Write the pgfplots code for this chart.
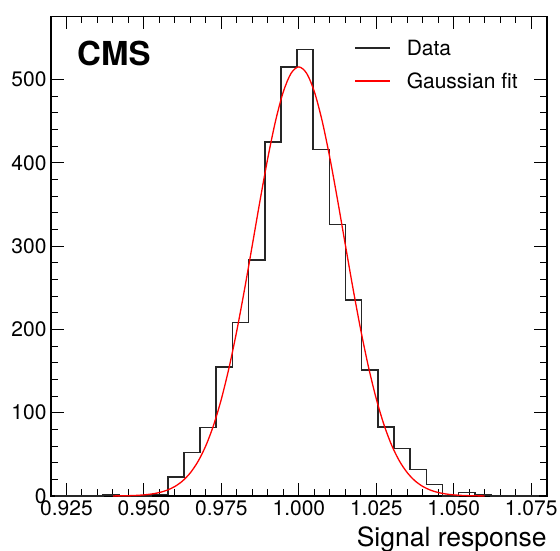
\documentclass[border=0pt]{standalone}
\usepackage{pgfplots}
\pgfplotsset{compat=1.18}
\usepackage{fontspec}
\setmainfont{TeX Gyre Heros}
\begin{document}
\begin{tikzpicture}
\useasboundingbox (-51pt,-54pt) rectangle (509pt,496pt);
\begin{axis}[
  at={(0pt,0pt)}, anchor=south west,
  scale only axis, width=495.7pt, height=479.5pt,
  xmin=0.92, xmax=1.08, ymin=0, ymax=575.5,
  xtick={0.925,0.95,0.975,1.0,1.025,1.05,1.075},
  xticklabels={0.925,0.950,0.975,1.000,1.025,1.050,1.075},
  ytick={0,100,200,300,400,500},
  minor x tick num=4, minor y tick num=4,
  tick align=inside, xtick pos=both, ytick pos=both,
  major tick length=13pt, minor tick length=7pt,
  every tick/.style={black, line width=1pt},
  axis line style={line width=1.6pt},
  /pgf/number format/assume math mode=true,
  tick label style={font=\fontsize{21}{25}\selectfont},
  xticklabel style={yshift=-1pt},
  yticklabel style={xshift=-1pt},
  xlabel={Signal response},
  xlabel style={at={(axis description cs:1,0)}, anchor=base east, yshift=-50.7pt, font=\fontsize{26.5}{30}\selectfont, inner sep=0pt},
  legend style={at={(rel axis cs:0,1)}, anchor=north west, xshift=300pt, yshift=-19pt, draw=none, fill=none, font=\fontsize{21}{25}\selectfont, row sep=12pt,
    /tikz/every odd column/.append style={column sep=14pt}},
  legend cell align=left,
  legend image code/.code={\draw[#1] (0pt,0pt) -- (35pt,0pt);},
]
\addplot[const plot, black!85, line width=1.6pt] coordinates {
(0.92117,0) (0.92639,0) (0.93160,0) (0.93682,1) (0.94204,0) (0.94725,0)
(0.95247,2) (0.95769,23) (0.96290,52) (0.96812,82) (0.97333,155) (0.97855,208)
(0.98377,283) (0.98898,425) (0.99420,515) (0.99941,536) (1.00463,416) (1.00984,326)
(1.01506,235) (1.02028,151) (1.02549,83) (1.03071,57) (1.03593,32) (1.04114,14)
(1.04636,0) (1.05157,4) (1.05679,1) (1.06201,0) (1.06722,0) (1.07244,0) (1.07765,0)
};
\addlegendentry{Data}
\addplot[smooth, red, line width=1.3pt] coordinates {
(0.940,0.10) (0.9425,0.20) (0.945,0.39) (0.9475,0.73) (0.950,1.35) (0.9525,2.41)
(0.955,4.17) (0.9575,7.02) (0.960,11.46) (0.9625,18.17) (0.965,27.96) (0.9675,41.77)
(0.970,60.57) (0.9725,85.27) (0.975,116.5) (0.9775,154.5) (0.980,198.9) (0.9825,248.6)
(0.985,301.6) (0.9875,355.2) (0.990,406.0) (0.9925,450.5) (0.995,485.3) (0.9975,507.4)
(1.000,515.0)
(1.0025,507.4) (1.005,485.3) (1.0075,450.5) (1.010,406.0) (1.0125,355.2)
(1.015,301.6) (1.0175,248.6) (1.020,198.9) (1.0225,154.5) (1.025,116.5)
(1.0275,85.27) (1.030,60.57) (1.0325,41.77) (1.035,27.96) (1.0375,18.17)
(1.040,11.46) (1.0425,7.02) (1.045,4.17) (1.0475,2.41) (1.050,1.35) (1.0525,0.73)
(1.055,0.39) (1.0575,0.20) (1.060,0.10)
};
\addlegendentry{Gaussian fit}
\node[anchor=base west, xshift=26pt, yshift=-49.2pt, font=\fontsize{33}{36}\selectfont\bfseries, inner sep=0pt] at (rel axis cs:0,1) {CMS};
\end{axis}
\end{tikzpicture}
\end{document}
